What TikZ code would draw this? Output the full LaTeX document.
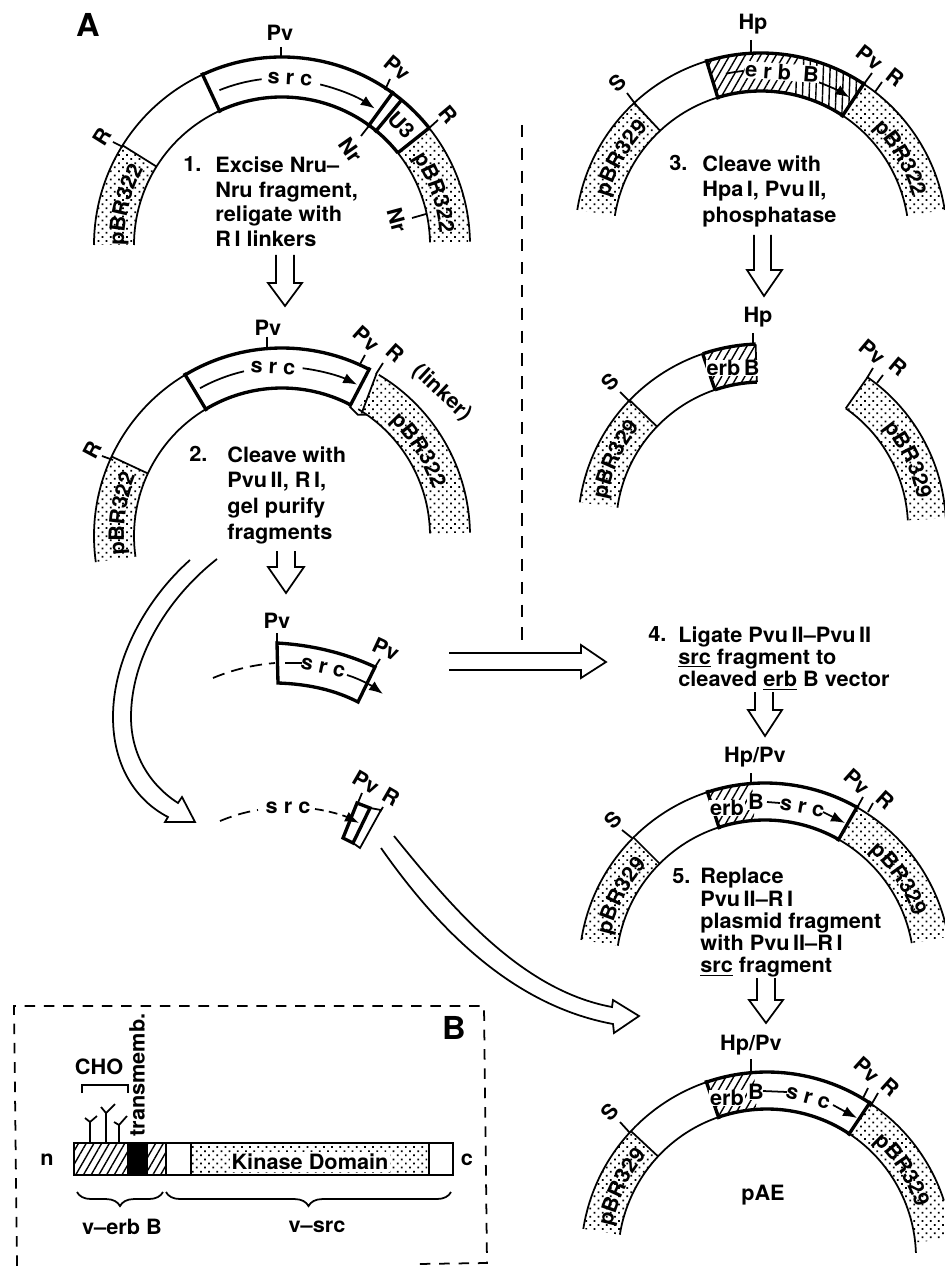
\documentclass[tikz,border=0pt]{standalone}
\usepackage{fontspec}
\usepackage{xcolor}
\usetikzlibrary{patterns.meta,decorations.text,decorations.pathreplacing,arrows.meta}

\newfontfamily\lblfamily[FakeStretch=1.03]{TeX Gyre Heros}
\newfontfamily\bandfamily[FakeStretch=1.03,LetterSpace=7]{TeX Gyre Heros}
\newcommand{\lblfont}{\lblfamily\bfseries\fontsize{12}{14}\selectfont}
\newcommand{\bandfont}{\bandfamily\bfseries\fontsize{12}{14}\selectfont}
% band between two radii, filled
\newcommand{\seg}[5]{\path[#1] (#2:#4) arc[start angle=#2,end angle=#3,radius=#4] -- (#3:#5) arc[start angle=#3,end angle=#2,radius=#5] -- cycle;}
% the two rims of a band
\newcommand{\rim}[5]{\draw[#1] (#2:#4) arc[start angle=#2,end angle=#3,radius=#4]; \draw[#1] (#2:#5) arc[start angle=#2,end angle=#3,radius=#5];}
% plasmid name set along the band, centred on an angle
\newcommand{\bandname}[2]{\pgfmathsetmacro{\angA}{#1+34}\pgfmathsetmacro{\angB}{#1-34}
  \path[decorate,decoration={text along path,text={|\bandfont|#2},text align=center}] (\angA:158) arc[start angle=\angA,end angle=\angB,radius=158];}

\begin{document}
\begin{tikzpicture}[x=0.02cm,y=-0.02cm,
    thn/.style={line width=1pt},
    thk/.style={line width=1.9pt},
    stip/.style={pattern={Dots[radius=0.7pt,distance=3.3pt,angle=45]}},
    hatchA/.style={pattern={Lines[angle=60,distance=3.8pt,line width=0.8pt]}},
    hatchB/.style={pattern={Lines[angle=88,distance=3.8pt,line width=0.8pt]}},
    lbl/.style={font=\lblfont,inner sep=0pt},
    big/.style={font=\lblfamily\bfseries\fontsize{18}{18}\selectfont,inner sep=0pt},
    onhatch/.style={lbl,fill=white,inner sep=0.4pt},
    steptxt/.style={font=\lblfamily\bfseries\fontsize{12}{#1}\selectfont,align=left,anchor=north west,inner sep=0pt},
    num/.style={lbl,anchor=north west},
    srcline/.style={thn,-{Latex[length=8pt,width=6pt]}},
    blk/.style={line width=1pt,line join=miter}]
  \useasboundingbox (0,0) rectangle (945,1266);

  \node[big] (tagA) at (88,25) {A};
  \draw[thn,dashed,dash pattern=on 7pt off 6pt] (522,125) -- (522,644);

  % plasmid 1
  \begin{scope}[shift={(282,245)},yscale=-1]
    \seg{stip}{180}{148}{188}{148}
    \seg{stip}{38.5}{1}{188}{148}
    \rim{thn}{180}{115}{188}{148}
    \rim{thk}{115}{38.5}{188}{148}
    \rim{thn}{38.5}{1}{188}{148}
    \draw[thn] (148:188) -- (148:148);
    \draw[thk] (115:190) -- (115:146);
    \draw[thk] (54:190) -- (54:146);
    \draw[thk] (50.5:188) -- (50.5:146);
    \draw[thk] (38.5:188) -- (38.5:148);
    \draw[thn] (112:167) arc[start angle=112,end angle=97,radius=167];
    \draw[srcline] (76.6:165) arc[start angle=76.6,end angle=55.8,radius=165];
    \bandname{165.7}{pBR322}
    \bandname{19}{pBR322}
  \end{scope}
  \node[lbl] (pvA) at (280,33) {Pv};
  \draw[thn] (281,47) -- (281,57);
  \node[lbl,rotate=-40] (pvB) at (398,68) {Pv};
  \draw[thn] (390,79) -- (385,90);
  \node[lbl,rotate=-50] (rA) at (448,115) {R};
  \draw[thn] (438,120) -- (427,130);
  \node[lbl,rotate=58] (rB) at (102,137) {R};
  \draw[thn] (113,142) -- (123,147);
  \node[lbl,rotate=-55] (nrA) at (351,150) {Nr};
  \draw[thn] (372,122) -- (361,136);
  \node[lbl,rotate=-75] (nrB) at (397,220) {Nr};
  \draw[thn] (412,218) -- (426,214);
  \node[lbl,rotate=-3] (srcA) at (290,79) {s r c};
  \node[lbl,rotate=-46] (uA) at (402,125) {U3};
  \node[num] (numA) at (183,156) {1.};
  \node[steptxt=14.2] (stepA) at (215,156) {Excise Nru–\\Nru fragment,\\religate with\\R\,I linkers};

  % plasmid 2
  \begin{scope}[shift={(282,536)},yscale=-1]
    \seg{stip}{188}{155}{188}{148}
    \seg{stip}{59}{1}{188}{148}
    \rim{thn}{188}{121}{188}{148}
    \rim{thk}{121}{62.4}{188}{148}
    \rim{thn}{59}{1}{188}{148}
    \draw[thn] (155:188) -- (155:148);
    \draw[thk] (121:190) -- (121:146);
    \draw[thk] (62.4:190) -- (62.4:146);
    \draw[thn] (59.8:188) -- (57:146);
    \draw[thn] (62.4:146) -- (58:143) -- (55:148);
    \draw[thn] (119:169) arc[start angle=119,end angle=103,radius=169];
    \draw[srcline] (83:169) arc[start angle=83,end angle=63.6,radius=169];
    \bandname{172}{pBR322}
    \bandname{32}{pBR322}
  \end{scope}
  \node[lbl] (pvC) at (268,328) {Pv};
  \draw[thn] (267,337) -- (267,348);
  \node[lbl,rotate=-42] (pvD) at (367,339) {Pv};
  \draw[thn] (365,355) -- (359,366);
  \node[lbl,rotate=-42] (rC) at (395,353) {R};
  \draw[thn] (383,363) -- (376,374);
  \node[lbl,rotate=-43] (linkA) at (442,393) {(linker)};
  \node[lbl,rotate=62] (rD) at (92,450) {R};
  \draw[thn] (102,456) -- (113,460);
  \node[lbl,rotate=-3] (srcB) at (273,368) {s r c};
  \node[num] (numB) at (189,446) {2.};
  \node[steptxt=14.6] (stepB) at (227,446) {Cleave with\\Pvu\,II, R\,I,\\gel purify\\fragments};

  % plasmid 3
  \begin{scope}[shift={(761,239)},yscale=-1]
    \seg{stip}{171}{133}{186}{148}
    \seg{stip}{56.5}{9}{186}{148}
    \seg{hatchA}{107}{78}{186}{148}
    \seg{hatchB}{78}{56.5}{186}{148}
    \rim{thn}{171}{107}{186}{148}
    \rim{thk}{107}{56.5}{186}{148}
    \rim{thn}{56.5}{9}{186}{148}
    \draw[thn] (133:186) -- (133:148);
    \draw[thk] (107:188) -- (107:146);
    \draw[thk] (56.5:188) -- (56.5:146);
    \draw[thn] (102:169) arc[start angle=102,end angle=96,radius=169];
    \draw[srcline] (70:167) arc[start angle=70,end angle=58,radius=167];
    \bandname{150}{pBR329}
    \bandname{30}{pBR322}
  \end{scope}
  \node[lbl] (hpA) at (753,24) {Hp};
  \draw[thn] (751,40) -- (751,53);
  \node[lbl,rotate=-38] (pvE) at (870,58) {Pv};
  \draw[thn] (872,73) -- (864,84);
  \node[lbl,rotate=-38] (rE) at (895,77) {R};
  \draw[thn] (882,82) -- (875,92);
  \node[lbl,rotate=43] (sA) at (618,83) {S};
  \draw[thn] (627,93) -- (636,105);
  \node[onhatch,rotate=-4] (erbA) at (782,72) {e r b\ \ B};
  \node[num] (numC) at (669,155) {3.};
  \node[steptxt=14.7] (stepC) at (702,155) {Cleave with\\Hpa\,I, Pvu\,II,\\phosphatase};

  % plasmid 3, cleaved
  \begin{scope}[shift={(762,528)},yscale=-1]
    \seg{stip}{172}{136}{184}{146}
    \seg{stip}{55}{3}{184}{146}
    \seg{hatchA}{108.8}{92}{184}{146}
    \rim{thn}{172}{108.8}{184}{146}
    \rim{thk}{108.8}{92}{184}{146}
    \rim{thn}{55}{3}{184}{146}
    \draw[thn] (136:184) -- (136:146);
    \draw[thk] (108.8:184) -- (108.8:146);
    \draw[thn] (92:184) -- (92:146);
    \draw[thn] (55:184) -- (55:146);
    \bandname{155}{pBR329}
    \bandname{25}{pBR329}
  \end{scope}
  \node[lbl] (hpB) at (758,317) {Hp};
  \draw[thn] (753,333) -- (753,345);
  \node[lbl,rotate=45] (sB) at (610,382) {S};
  \draw[thn] (620,392) -- (631,403);
  \node[lbl,rotate=-40] (pvF) at (873,352) {Pv};
  \draw[thn] (873,368) -- (867,378);
  \node[lbl,rotate=-40] (rF) at (898,367) {R};
  \draw[thn] (883,375) -- (877,383);
  \node[onhatch] (erbB) at (733,368) {erb\,B};

  % src fragment, cut at both Pv
  \draw[thk] (277,643) .. controls (312,645) and (345,653) .. (375,667) -- (358,702) .. controls (335,690) and (308,684) .. (278,683) -- cycle;
  \draw[thn,dashed,dash pattern=on 7pt off 4pt] (213,678) .. controls (232,670) and (252,665) .. (275,663);
  \draw[thn] (285,663) -- (302,663);
  \draw[srcline] (347,675) .. controls (360,679) and (372,686) .. (383,694);
  \node[lbl,rotate=-12] (srcC) at (323,668) {s r c};
  \node[lbl] (pvG) at (277,621) {Pv};
  \draw[thn] (277,633) -- (277,643);
  \node[lbl,rotate=-25] (pvH) at (386,649) {Pv};
  \draw[thn] (380,659) -- (375,667);

  % small Pv-R piece
  \draw[thn,dashed,dash pattern=on 7pt off 4pt] (220,821) .. controls (232,816) and (245,812) .. (258,810);
  \draw[thn,dashed,dash pattern=on 5pt off 3pt,-{Latex[length=8pt,width=6pt]}] (315,809) .. controls (330,811) and (345,816) .. (359,823);
  \node[lbl] (srcD) at (288,808) {s r c};
  \draw[thn] (370,808) -- (381,810) -- (360,848) -- (353,843);
  \draw[thk] (357,803) -- (370,808) -- (353,843) -- (343,838) -- cycle;
  \node[lbl,rotate=-30] (pvI) at (366,782) {Pv};
  \draw[thn] (362,793) -- (357,805);
  \node[lbl,rotate=-30] (rG) at (391,797) {R};
  \draw[thn] (383,807) -- (380,812);

  % step 4
  \node[num] (numD) at (648,626) {4.};
  \node[steptxt=12.6] (stepD) at (678,626) {Ligate Pvu\,II–Pvu\,II\\\underline{src} fragment to\\cleaved \underline{erb} B vector};

  % plasmid 4
  \begin{scope}[shift={(765,969)},yscale=-1]
    \seg{stip}{171}{135}{186}{149}
    \seg{stip}{60.4}{10}{186}{149}
    \seg{hatchA}{108}{94}{186}{149}
    \rim{thn}{171}{108}{186}{149}
    \rim{thk}{108}{60.4}{186}{149}
    \rim{thn}{60.4}{10}{186}{149}
    \draw[thn] (135:186) -- (135:149);
    \draw[thk] (108:188) -- (108:147);
    \draw[thk] (60.4:188) -- (60.4:147);
    \bandname{153}{pBR329}
    \bandname{34}{pBR329}
  \end{scope}
  \node[lbl] (hpC) at (755,757) {Hp/Pv};
  \draw[thn] (751,773) -- (751,785);
  \node[lbl,rotate=45] (sC) at (613,820) {S};
  \draw[thn] (622,830) -- (632,838);
  \node[lbl,rotate=-42] (pvJ) at (857,782) {Pv};
  \draw[thn] (863,797) -- (857,808);
  \node[lbl,rotate=-42] (rH) at (885,800) {R};
  \draw[thn] (873,803) -- (868,812);
  \node[onhatch] (erbC) at (727,808) {erb};
  \node[onhatch] (erbBB) at (756,802) {B};
  \draw[thn] (767,802) -- (780,803);
  \node[lbl,rotate=-10] (srcE) at (802,808) {s r c};
  \draw[srcline] (823,812) -- (845,823);
  \node[num] (numE) at (672,868) {5.};
  \node[steptxt=12.7] (stepE) at (700,868) {Replace\\Pvu\,II–R\,I\\plasmid fragment\\with Pvu\,II–R\,I\\\underline{src} fragment};

  % pAE
  \begin{scope}[shift={(767,1258)},yscale=-1]
    \seg{stip}{171}{137}{186}{149}
    \seg{stip}{56.5}{6}{186}{149}
    \seg{hatchA}{109}{94}{186}{149}
    \rim{thn}{171}{109}{186}{149}
    \rim{thk}{109}{56.5}{186}{149}
    \draw[thn] (56.5:186) arc[start angle=56.5,end angle=18,radius=186];
    \draw[thn] (56.5:149) arc[start angle=56.5,end angle=2,radius=149];
    \draw[thn] (137:186) -- (137:149);
    \draw[thk] (109:188) -- (109:147);
    \draw[thk] (56.5:188) -- (56.5:147);
    \bandname{154}{pBR329}
    \bandname{33}{pBR329}
  \end{scope}
  \node[lbl] (hpD) at (751,1045) {Hp/Pv};
  \draw[thn] (751,1059) -- (751,1072);
  \node[lbl,rotate=47] (sD) at (610,1112) {S};
  \draw[thn] (620,1122) -- (630,1133);
  \node[lbl,rotate=-42] (pvK) at (867,1070) {Pv};
  \draw[thn] (868,1088) -- (863,1098);
  \node[lbl,rotate=-42] (rI) at (890,1087) {R};
  \draw[thn] (878,1093) -- (870,1107);
  \node[onhatch] (erbD) at (727,1098) {erb};
  \node[onhatch] (erbDB) at (756,1092) {B};
  \draw[thn] (763,1091) -- (787,1092);
  \node[lbl,rotate=-15] (srcF) at (808,1098) {s r c};
  \draw[srcline] (833,1105) -- (857,1118);
  \node[lbl] (pae) at (763,1195) {pAE};

  % open block arrows, straight
  \foreach \xl/\xr/\ys/\yh/\wl/\wr/\xt/\yt in {
      276/294/255/283/268/302/285/306,
      277/295/551/567/268/304/286/593,
      754/771/235/270/747/782/764/296,
      755/773/692/710/748/782/765/736,
      757/775/978/1000/749/783/766/1023} {
    \draw[blk] (\xl,\ys) -- (\xl,\yh) -- (\wl,\yh) -- (\xt,\yt) -- (\wr,\yh) -- (\xr,\yh) -- (\xr,\ys);
  }
  \draw[blk] (449,653) -- (581,653) -- (581,645) -- (606,662) -- (581,678) -- (581,670) -- (449,670);

  % open block arrows, curved
  \draw[blk] (190,560) .. controls (145,600) and (113,660) .. (113,717) .. controls (113,765) and (135,800) .. (168,817) -- (165,822) -- (195,822) -- (182,797) -- (178,803) .. controls (150,785) and (131,755) .. (131,717) .. controls (131,660) and (165,600) .. (217,559);
  \draw[blk] (394,836) .. controls (450,905) and (520,990) .. (612,1007) -- (613,1000) -- (639,1016) -- (614,1033) -- (613,1024) .. controls (510,1005) and (435,925) .. (381,848);

  % panel B
  \draw[thn,dashed,dash pattern=on 6pt off 5pt] (17,1266) -- (14,1006) -- (484,1006) -- (487,1263) -- (417,1264);
  \node[big] (tagB) at (454,1028) {B};
  \fill[hatchA] (74,1143) rectangle (127,1175);
  \fill[black] (127,1143) rectangle (148,1175);
  \fill[hatchA] (148,1143) rectangle (166,1175);
  \fill[stip] (191,1143) rectangle (429,1175);
  \draw[line width=1.4pt] (74,1143) rectangle (453,1175);
  \draw[thn] (166,1143) -- (166,1175);
  \draw[thn] (191,1143) -- (191,1175);
  \draw[thn] (429,1143) -- (429,1175);
  \node[lbl,fill=white,inner sep=1pt] (kinase) at (310,1162) {Kinase Domain};
  \node[lbl] (nterm) at (47,1160) {n};
  \node[lbl] (cterm) at (467,1160) {c};
  \foreach \sx/\st/\lx/\ly/\rx/\ry in {90/1122/85/1118/97/1116,106/1113/101/1107/115/1104,119/1125/114/1122/127/1116} {
    \draw[thn] (\sx,1143) -- (\sx,\st) -- (\lx,\ly);
    \draw[thn] (\sx,\st) -- (\rx,\ry);
  }
  \draw[thn] (82,1093) -- (82,1085) -- (128,1085) -- (128,1093);
  \node[lbl] (cho) at (99,1067) {CHO};
  \node[lbl,rotate=90] (tm) at (137,1075) {transmemb.};
  \draw[thn,decorate,decoration={brace,mirror,amplitude=8pt}] (77,1192) -- (163,1192);
  \draw[thn,decorate,decoration={brace,mirror,amplitude=8pt}] (166,1192) -- (451,1192);
  \node[lbl] (verb) at (122,1227) {v–erb B};
  \node[lbl] (vsrc) at (317,1227) {v–src};
\end{tikzpicture}
\end{document}
